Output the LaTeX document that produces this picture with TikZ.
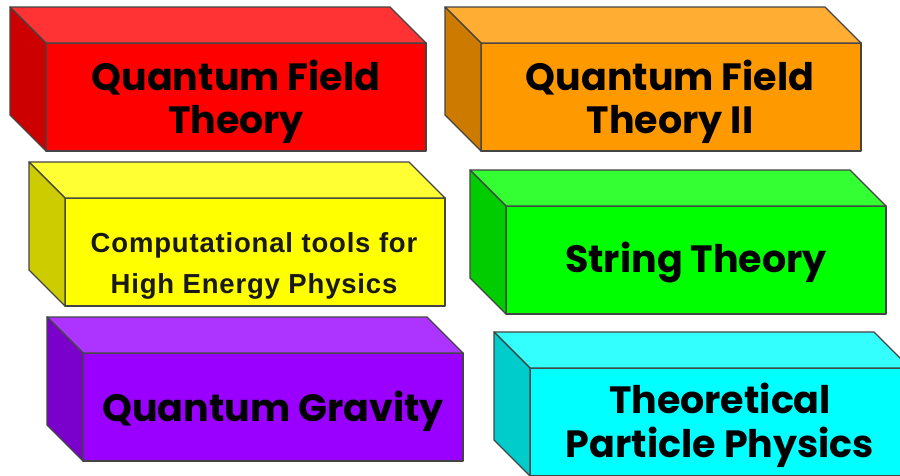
\documentclass[tikz,border=0pt]{standalone}
\usepackage{fontspec}
\setmainfont{Poppins}
\newfontfamily\arialfont[LetterSpace=3]{Liberation Sans}
\definecolor{edgegray}{HTML}{444444}
\definecolor{redF}{HTML}{FF0000}\definecolor{redT}{HTML}{FF3333}\definecolor{redS}{HTML}{CC0000}
\definecolor{orgF}{HTML}{FF9900}\definecolor{orgT}{HTML}{FFAD33}\definecolor{orgS}{HTML}{CC7A00}
\definecolor{yelF}{HTML}{FFFF00}\definecolor{yelT}{HTML}{FFFF33}\definecolor{yelS}{HTML}{CCCC00}
\definecolor{grnF}{HTML}{00FF00}\definecolor{grnT}{HTML}{33FF33}\definecolor{grnS}{HTML}{00CC00}
\definecolor{purF}{HTML}{9900FF}\definecolor{purT}{HTML}{AD33FF}\definecolor{purS}{HTML}{7A00CC}
\definecolor{cyaF}{HTML}{00FFFF}\definecolor{cyaT}{HTML}{33FFFF}\definecolor{cyaS}{HTML}{00CCCC}
\tikzset{
  edge/.style={draw=edgegray, line width=1.3pt, line join=round},
  frontface/.style={edge, minimum width=380pt, minimum height=108pt, inner sep=0pt, outer sep=0pt, anchor=north west},
  lbl/.style={anchor=base, font=\fontsize{38}{40}\selectfont\bfseries, text=black, inner sep=0pt},
  albl/.style={anchor=base, font=\arialfont\fontsize{27.5}{30}\selectfont\bfseries, text=black!90, inner sep=0pt},
}
\newcommand\mycube[6]{%
  \node[frontface, fill=#4] (#1) at (#2,#3) {};
  \filldraw[edge, fill=#5] (#1.north west) -- ([shift={(-36,-36)}]#1.north west)
     -- ([shift={(-36,-36)}]#1.north east) -- (#1.north east) -- cycle;
  \filldraw[edge, fill=#6] (#1.north west) -- ([shift={(-36,-36)}]#1.north west)
     -- ([shift={(-36,-36)}]#1.south west) -- (#1.south west) -- cycle;
}
\begin{document}
\begin{tikzpicture}[x=1pt,y=-1pt]
\useasboundingbox (0,0) rectangle (900,475);
\clip (0,0) rectangle (900,475);
\fill[white] (0,0) rectangle (900,475);
\mycube{qftA}{46}{43}{redF}{redT}{redS}
\mycube{qftB}{481}{43}{orgF}{orgT}{orgS}
\mycube{comp}{65}{198}{yelF}{yelT}{yelS}
\mycube{string}{506}{206}{grnF}{grnT}{grnS}
\mycube{grav}{83}{353}{purF}{purT}{purS}
\mycube{tpp}{530}{368}{cyaF}{cyaT}{cyaS}
\node[lbl] (qftAa) at (236,90) {Quantum Field};
\node[lbl] (qftAb) at (236,133) {Theory};
\node[lbl] (qftBa) at (670,90) {Quantum Field};
\node[lbl] (qftBb) at (670,133) {Theory II};
\node[albl] (compa) at (254,252) {Computational tools for};
\node[albl] (compb) at (254,293) {High Energy Physics};
\node[lbl] (stringa) at (696,272) {String Theory};
\node[lbl] (grava) at (273,421) {Quantum Gravity};
\node[lbl] (tppa) at (720,413) {Theoretical};
\node[lbl] (tppb) at (720,457) {Particle Physics};
\end{tikzpicture}
\end{document}
